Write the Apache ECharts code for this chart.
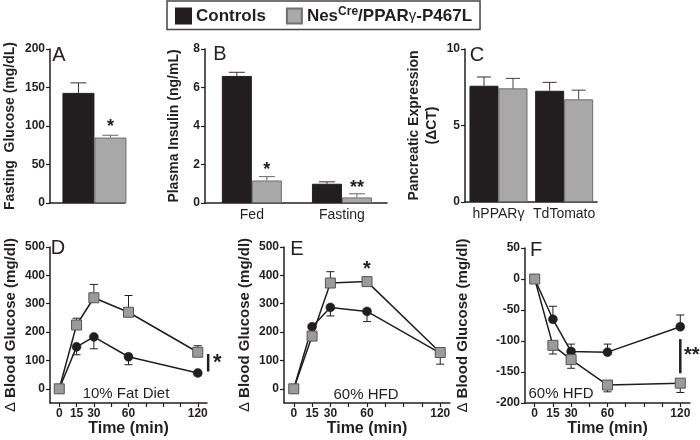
<!DOCTYPE html>
<html>
<head>
<meta charset="utf-8">
<title>NesCre PPARg-P467L</title>
<script src="https://cdn.jsdelivr.net/npm/echarts@6/dist/echarts.min.js"></script>
<style>html,body{margin:0;background:#fff}</style>
</head>
<body>
<div id="fig" style="width:700px;height:440px"></div>
<script>
// A: fasting glucose (controls, mutant)
var glucoseMean = [143, 85];
var glucoseErr = [13, 3];
// B: plasma insulin
var insulinCats = ['Fed', 'Fasting'];
var insulinCtrl = [6.6, 1.0];
var insulinCtrlErr = [0.19, 0.1];
var insulinMut = [1.17, 0.29];
var insulinMutErr = [0.2, 0.19];
// C: pancreatic expression
var exprCats = ['hPPARγ', 'TdTomato'];
var exprCtrl = [7.6, 7.27];
var exprCtrlErr = [0.57, 0.55];
var exprMut = [7.43, 6.71];
var exprMutErr = [0.65, 0.6];
// D-F: time courses
var times = [0, 15, 30, 60, 120];
var timeTicks = [0, 15, 30, 45, 60, 75, 90, 105, 120];
var timeLabels = [0, 15, 30, 60, 120];
var dCtrl = [0, 148, 183, 113, 56];
var dCtrlErr = [0, 28, 42, 28, 10];
var dMut = [0, 225, 321, 270, 129];
var dMutErr = [0, 24, 47, 59, 23];
var eCtrl = [0, 219, 287, 273, 126];
var eCtrlErr = [0, 0, 30, 36, 39];
var eMut = [0, 186, 373, 378, 128];
var eMutErr = [0, 0, 40, 6, 14];
var fCtrl = [0, -65, -117, -118, -77];
var fCtrlErr = [0, 21, 12, 13, 19];
var fMut = [0, -107, -130, -171, -168];
var fMutErr = [0, 14, 14, 11, 15];
var glucoseTicks = [0, 100, 200, 300, 400, 500];

var FONT = '"Liberation Sans", Arial, sans-serif';
var INK = '#231f20';
var DARK = '#221e1f';
var GREY = '#a8a8a8';
var GREY_EDGE = '#6e6e6e';
var SQ = '#9b9b9b';

var chart = echarts.init(document.getElementById('fig'));

function grid(l, t, w, h) { return {left: l, top: t, width: w, height: h}; }

function xBar(gi, min, max, cats) {
    return {
        type: 'value', gridIndex: gi, min: min, max: max,
        axisLine: {show: true, onZero: false, lineStyle: {color: INK, width: 1.5}},
        axisTick: {show: false}, splitLine: {show: false},
        axisLabel: cats ? {
            customValues: cats.map(function (c, i) { return i; }),
            formatter: function (v) { return cats[Math.round(v)]; },
            fontFamily: FONT, fontSize: 14, color: INK, margin: 5
        } : {show: false}
    };
}

function xTime(gi) {
    return {
        type: 'value', gridIndex: gi, min: -8, max: 128,
        name: 'Time (min)', nameLocation: 'middle', nameGap: 17,
        nameTextStyle: {fontFamily: FONT, fontSize: 16, fontWeight: 'bold', color: INK},
        axisLine: {show: true, onZero: false, lineStyle: {color: INK, width: 1.5}},
        axisTick: {show: true, length: 4, customValues: timeTicks, lineStyle: {color: INK, width: 1.2}},
        splitLine: {show: false},
        axisLabel: {customValues: timeLabels, fontFamily: FONT, fontSize: 12, fontWeight: 'bold', color: INK, margin: 5}
    };
}

function yVal(gi, min, max, interval, name, gap, size, ticks) {
    var ax = {
        type: 'value', gridIndex: gi, min: min, max: max, interval: interval,
        name: name, nameLocation: 'middle', nameRotate: 90, nameGap: gap,
        nameTextStyle: {fontFamily: FONT, fontSize: size, fontWeight: 'bold', color: INK, lineHeight: size + 4,
            rich: {d: {fontFamily: FONT, fontSize: size, fontWeight: 'normal', color: INK}}},
        axisLine: {show: true, onZero: false, lineStyle: {color: INK, width: 1.5}},
        axisTick: {show: true, length: 4, lineStyle: {color: INK, width: 1.2}},
        splitLine: {show: false},
        axisLabel: {fontFamily: FONT, fontSize: 12, fontWeight: 'bold', color: INK, margin: 5}
    };
    if (ticks) {
        ax.axisTick.customValues = ticks;
        ax.axisLabel.customValues = ticks;
    }
    return ax;
}

function bar(gi, name, vals, width, color, edge) {
    return {
        type: 'bar', name: name, xAxisIndex: gi, yAxisIndex: gi,
        barWidth: width, barGap: '0%',
        data: vals.map(function (v, i) { return [i, v]; }),
        itemStyle: {color: color, borderColor: edge, borderWidth: 1},
        z: 2
    };
}

// one-sided error bars; dir +1 up, -1 down; off = px shift from the point
function errBars(gi, xs, vals, errs, dir, off, cap, color, z) {
    return {
        type: 'custom', xAxisIndex: gi, yAxisIndex: gi, z: z, clip: false, silent: true,
        data: vals.map(function (v, i) { return [xs[i], v, errs[i]]; }),
        renderItem: function (params, api) {
            var e = api.value(2);
            if (!e) return null;
            var p0 = api.coord([api.value(0), api.value(1)]);
            var p1 = api.coord([api.value(0), api.value(1) + dir * e]);
            var cx = p0[0] + off;
            var st = {stroke: color, lineWidth: 1};
            return {type: 'group', children: [
                {type: 'line', shape: {x1: cx, y1: p0[1], x2: cx, y2: p1[1]}, style: st},
                {type: 'line', shape: {x1: cx - cap, y1: p1[1], x2: cx + cap, y2: p1[1]}, style: st}
            ]};
        }
    };
}

// significance stars: [x, y] positions, text per item, px shift
function stars(gi, pts, texts, off, size) {
    return {
        type: 'custom', xAxisIndex: gi, yAxisIndex: gi, z: 5, clip: false, silent: true,
        data: pts,
        renderItem: function (params, api) {
            var p = api.coord([api.value(0), api.value(1)]);
            return {type: 'text', x: p[0] + off, y: p[1],
                style: {text: texts[params.dataIndex], font: 'bold ' + size + 'px ' + FONT, fill: INK,
                    align: 'center', verticalAlign: 'middle', textAlign: 'center', textVerticalAlign: 'middle'}};
        }
    };
}

// vertical significance bracket between two y values at one x
function sigBar(gi, x, y0, y1) {
    return {
        type: 'custom', xAxisIndex: gi, yAxisIndex: gi, z: 5, clip: false, silent: true,
        data: [[x, y0, y1]],
        renderItem: function (params, api) {
            var a = api.coord([api.value(0), api.value(1)]);
            var b = api.coord([api.value(0), api.value(2)]);
            return {type: 'line', shape: {x1: a[0], y1: a[1], x2: b[0], y2: b[1]},
                style: {stroke: INK, lineWidth: 2.5}};
        }
    };
}

function course(gi, name, vals, isCtrl) {
    return {
        type: 'line', name: name, xAxisIndex: gi, yAxisIndex: gi,
        data: times.map(function (t, i) { return [t, vals[i]]; }),
        symbol: isCtrl ? 'circle' : 'rect', symbolSize: isCtrl ? 9 : 10,
        lineStyle: {color: '#1e1e1e', width: 1.5},
        itemStyle: isCtrl ? {color: DARK, borderColor: DARK, borderWidth: 0.5}
                          : {color: SQ, borderColor: '#555', borderWidth: 1},
        z: isCtrl ? 3 : 4
    };
}

function letter(t, x, y) {
    return {type: 'text', x: x, y: y, z: 10,
        style: {text: t, font: '20px ' + FONT, fill: INK, align: 'center', verticalAlign: 'middle',
            textAlign: 'center', textVerticalAlign: 'middle'}};
}
function note(t, x, y) {
    return {type: 'text', x: x, y: y, z: 10,
        style: {text: t, font: '15px ' + FONT, fill: INK, align: 'center', verticalAlign: 'middle',
            textAlign: 'center', textVerticalAlign: 'middle'}};
}

var option = {
    animation: false,
    backgroundColor: '#fff',
    legend: {
        data: ['Controls', 'Mutant'], left: 167, top: 1,
        padding: [5, 8, 5, 8], itemGap: 20, itemWidth: 15, itemHeight: 15,
        borderColor: '#444', borderWidth: 1.5, icon: 'rect',
        formatter: function (n) {
            return n === 'Controls' ? '{b|Controls}' : '{b|Nes}{s|Cre}{b|/PPAR}{g|γ}{b|-P467L}';
        },
        textStyle: {rich: {
            b: {fontFamily: FONT, fontSize: 17, fontWeight: 'bold', color: INK, lineHeight: 20},
            s: {fontFamily: FONT, fontSize: 12, fontWeight: 'bold', color: INK, verticalAlign: 'top', lineHeight: 12},
            g: {fontFamily: FONT, fontSize: 15, fontWeight: 'normal', color: INK, lineHeight: 20}
        }}
    },
    grid: [
        grid(44, 49, 81, 154),
        grid(205, 49, 182, 154),
        grid(465, 49, 132, 153),
        grid(43, 247, 164, 156),
        grid(284, 247, 166, 156),
        grid(525, 248, 165, 155)
    ],
    xAxis: [
        xBar(0, -0.48, 0.33, null),
        xBar(1, -0.52, 1.5, insulinCats),
        xBar(2, -0.51, 1.5, exprCats),
        xTime(3), xTime(4), xTime(5)
    ],
    yAxis: [
        yVal(0, 0, 200, 50, 'Fasting  Glucose (mg/dL)', 31, 14),
        yVal(1, 0, 8, 2, 'Plasma Insulin (ng/mL)', 22, 14),
        yVal(2, 0, 10, 5, 'Pancreatic Expression\n(ΔCT)', 24, 14),
        yVal(3, -50, 500, 50, '{d|Δ} Blood Glucose (mg/dl)', 30, 15, glucoseTicks),
        yVal(4, -50, 500, 50, '{d|Δ} Blood Glucose (mg/dl)', 30, 15, glucoseTicks),
        yVal(5, -200, 50, 50, '{d|Δ} Blood Glucose (mg/dl)', 53, 15)
    ],
    series: [
        // A
        bar(0, 'Controls', [glucoseMean[0]], 32, DARK, DARK),
        bar(0, 'Mutant', [glucoseMean[1]], 32, GREY, GREY_EDGE),
        errBars(0, [0], [glucoseMean[0]], [glucoseErr[0]], 1, -16, 8, '#333', 3),
        errBars(0, [0], [glucoseMean[1]], [glucoseErr[1]], 1, 16, 8, '#666', 3),
        stars(0, [[0, 99]], ['*'], 16, 18),
        // B
        bar(1, 'Controls', insulinCtrl, 30, DARK, DARK),
        bar(1, 'Mutant', insulinMut, 30, GREY, GREY_EDGE),
        errBars(1, [0, 1], insulinCtrl, insulinCtrlErr, 1, -15, 8, '#333', 3),
        errBars(1, [0, 1], insulinMut, insulinMutErr, 1, 15, 8, '#666', 3),
        stars(1, [[0, 1.72], [1, 0.8]], ['*', '**'], 15, 18),
        // C
        bar(2, 'Controls', exprCtrl, 29, DARK, DARK),
        bar(2, 'Mutant', exprMut, 29, GREY, GREY_EDGE),
        errBars(2, [0, 1], exprCtrl, exprCtrlErr, 1, -14.5, 7, '#333', 3),
        errBars(2, [0, 1], exprMut, exprMutErr, 1, 14.5, 7, '#444', 3),
        // D
        errBars(3, times, dCtrl, dCtrlErr, -1, 0, 4, INK, 1),
        errBars(3, times, dMut, dMutErr, 1, 0, 4, INK, 1),
        course(3, 'Controls', dCtrl, true),
        course(3, 'Mutant', dMut, false),
        sigBar(3, 129, 61, 123),
        stars(3, [[137, 93]], ['*'], 0, 22),
        // E
        errBars(4, times, eCtrl, eCtrlErr, -1, 0, 4, INK, 1),
        errBars(4, times, eMut, eMutErr, 1, 0, 4, INK, 1),
        course(4, 'Controls', eCtrl, true),
        course(4, 'Mutant', eMut, false),
        stars(4, [[60, 420]], ['*'], 0, 20),
        // F
        errBars(5, times, fCtrl, fCtrlErr, 1, 0, 4, INK, 1),
        errBars(5, times, fMut, fMutErr, -1, 0, 4, INK, 1),
        course(5, 'Controls', fCtrl, true),
        course(5, 'Mutant', fMut, false),
        sigBar(5, 120, -97, -152),
        stars(5, [[129.5, -123]], ['**'], 0, 20)
    ],
    graphic: [
        letter('A', 59, 55), letter('B', 220, 54), letter('C', 477, 55),
        letter('D', 58, 248), letter('E', 297, 249), letter('F', 536, 250),
        note('10% Fat Diet', 126, 394), note('60% HFD', 366, 395), note('60% HFD', 561, 394)
    ]
};

chart.setOption(option);
</script>
</body>
</html>
